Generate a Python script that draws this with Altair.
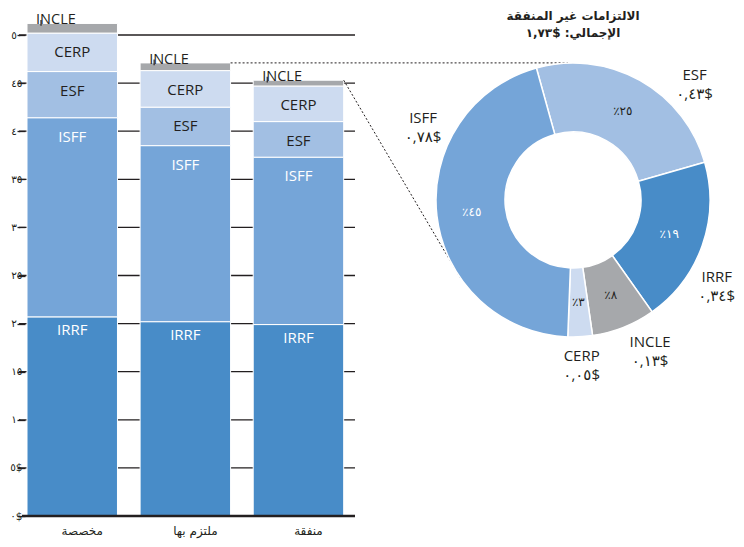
import math
import altair as alt
import pandas as pd

# ---------------- data ----------------
categories = ["IRRF", "ISFF", "ESF", "CERP", "INCLE"]          # stack order, bottom -> top
stages = ["مخصصة", "ملتزم بها", "منفقة"]
allocated = [20.7, 20.7, 4.8, 4.0, 1.0]
obligated = [20.2, 18.3, 4.0, 3.8, 0.8]
expended = [19.9, 17.4, 3.7, 3.7, 0.6]

donut_order = ["ESF", "IRRF", "INCLE", "CERP", "ISFF"]          # clockwise
unspent = [0.43, 0.34, 0.13, 0.05, 0.78]
unspent_labels = ["٠,٤٣$", "٠,٣٤$", "٠,١٣$", "٠,٠٥$", "٠,٧٨$"]
pct_labels = ["٪٢٥", "٪١٩", "٪٨", "٪٣", "٪٤٥"]

y_ticks = [0, 5, 10, 15, 20, 25, 30, 35, 40, 45, 50]
y_tick_labels = ["٠$", "٥$", "١٠", "١٥", "٢٠", "٢٥", "٣٠", "٣٥", "٤٠", "٤٥", "٥٠"]

title_line1 = "الالتزامات غير المنفقة"
title_line2 = "الإجمالي: $١,٧٣"

# ---------------- styles ----------------
colors = {"IRRF": "#488cc8", "ISFF": "#75a5d8", "ESF": "#a2bfe3",
          "CERP": "#cddbf0", "INCLE": "#a6a8ab"}
text_on = {"IRRF": "white", "ISFF": "white", "ESF": "#231f20",
           "CERP": "#231f20", "INCLE": "#231f20"}
DARK = "#231f20"
LATIN = "Open Sans, DejaVu Sans"
ARABIC = "DejaVu Sans"

W, H = 709, 481
BAR_W = 328
CX, CY, R_OUT, R_IN = 546, 165, 137, 68
START = math.radians(-15.5)

# outer label nudges (style)
outer_nudge = {"ESF": (41, 20), "IRRF": (-12, 23), "INCLE": (16, -10),
               "CERP": (0, -8), "ISFF": (14, -100)}

# ---------------- tables ----------------
rows = []
for stage, vals in zip(stages, [allocated, obligated, expended]):
    base = 0.0
    for cat, v in zip(categories, vals):
        rows.append({"stage": stage, "cat": cat, "y0": base, "y1": base + v,
                     "tcol": text_on[cat]})
        base += v
bars_df = pd.DataFrame(rows)

totals = {s: sum(v) for s, v in zip(stages, [allocated, obligated, expended])}
total_unspent = sum(unspent)
drows = []
acc = 0.0
for cat, v, vl, pl in zip(donut_order, unspent, unspent_labels, pct_labels):
    drows.append({"cat": cat, "t0": acc, "t1": acc + v, "tm": acc + v / 2,
                  "pct": pl, "lab": cat + "\n" + vl, "tcol": text_on[cat]})
    acc += v
donut_df = pd.DataFrame(drows)

ticks_df = pd.DataFrame({"v": y_ticks[1:]})
label_expr = "[" + ",".join("'%s'" % s for s in y_tick_labels) + "][round(datum.value/5)]"

yscale = alt.Scale(domain=[0, 50], nice=False, zero=True)
xscale = alt.Scale(domain=stages, range=[0, BAR_W], paddingInner=0.2,
                   paddingOuter=0.05, align=0)
colscale = alt.Scale(domain=categories, range=[colors[c] for c in categories])
thscale = alt.Scale(domain=[0, total_unspent], range=[START, START + 2 * math.pi])

yaxis = alt.Axis(values=y_ticks, labelExpr=label_expr, title=None, domain=False,
                 grid=False, tickSize=8, tickColor=DARK, tickWidth=1.3, offset=2,
                 labelFont=ARABIC, labelFontSize=10.5, labelColor=DARK,
                 labelPadding=-5)
xaxis = alt.Axis(title=None, domain=False, ticks=False, labelAngle=0,
                 labelFont=ARABIC, labelFontSize=12, labelColor=DARK,
                 labelPadding=9, labelOffset=10)

# ---------------- layers ----------------
grid = alt.Chart(ticks_df).mark_rule(color=DARK, strokeWidth=1.3).encode(
    y=alt.Y("v:Q", scale=yscale, axis=yaxis),
    x=alt.value(-8), x2=alt.value(BAR_W))

bars = alt.Chart(bars_df).mark_bar(stroke="white", strokeWidth=1).encode(
    x=alt.X("stage:N", sort=stages, scale=xscale, axis=xaxis),
    y=alt.Y("y1:Q", scale=yscale),
    y2="y0",
    color=alt.Color("cat:N", scale=colscale, legend=None))

baseline = alt.Chart(pd.DataFrame({"v": [0]})).mark_rule(
    color=DARK, strokeWidth=2.5).encode(
    y=alt.Y("v:Q", scale=yscale), x=alt.value(-5), x2=alt.value(BAR_W))


def seg_text(flt, dy):
    return alt.Chart(bars_df).transform_filter(flt).mark_text(
        font=LATIN, fontSize=15, baseline="middle", dy=dy).encode(
        x=alt.X("stage:N", sort=stages, scale=xscale),
        y=alt.Y("y1:Q", scale=yscale),
        text="cat:N",
        color=alt.Color("tcol:N", scale=None))


seg_upper = seg_text((alt.datum.cat != "INCLE") & (alt.datum.cat != "IRRF"), 19)
seg_irrf = seg_text(alt.datum.cat == "IRRF", 13)

incle_base = alt.Chart(bars_df).transform_filter(alt.datum.cat == "INCLE")
incle_text = incle_base.mark_text(font=LATIN, fontSize=14.5, align="left",
                                  baseline="alphabetic", dy=1, color=DARK).encode(
    x=alt.X("stage:N", sort=stages, scale=xscale, bandPosition=0.1),
    y=alt.Y("y1:Q", scale=yscale),
    text="cat:N")
incle_tick = incle_base.transform_calculate(
    a="datum.y1 - 0.25", b="datum.y1 + 0.35").mark_rule(
    color=DARK, strokeWidth=1.2).encode(
    x=alt.X("stage:N", sort=stages, scale=xscale, bandPosition=0.155),
    y=alt.Y("a:Q", scale=yscale), y2="b:Q")

# dotted connectors
tot_df = pd.DataFrame({"stage": stages, "tot": [totals[s] for s in stages]})
ang2 = math.radians(235.4)
px2 = CX + R_OUT * math.sin(ang2)
py2 = CY - R_OUT * math.cos(ang2)
conn1 = alt.Chart(tot_df).transform_filter(alt.datum.stage == stages[1]).mark_rule(
    color=DARK, strokeWidth=1, strokeDash=[2, 2]).encode(
    x=alt.X("stage:N", sort=stages, scale=xscale, bandPosition=1),
    x2=alt.value(CX - 5),
    y=alt.Y("tot:Q", scale=yscale))
conn2 = alt.Chart(tot_df).transform_filter(alt.datum.stage == stages[2]).mark_rule(
    color=DARK, strokeWidth=1, strokeDash=[2, 2]).encode(
    x=alt.X("stage:N", sort=stages, scale=xscale, bandPosition=1),
    x2=alt.value(px2),
    y=alt.Y("tot:Q", scale=yscale),
    y2=alt.value(py2))

arcs = alt.Chart(donut_df).mark_arc(radius=R_OUT, radius2=R_IN, stroke="white",
                                    strokeWidth=1.5).encode(
    theta=alt.Theta("t0:Q", scale=thscale), theta2="t1:Q",
    color=alt.Color("cat:N", scale=colscale, legend=None),
    x=alt.value(CX), y=alt.value(CY))

pct = alt.Chart(donut_df).mark_text(radius=102, font=ARABIC, fontSize=12,
                                    baseline="middle").encode(
    theta=alt.Theta("tm:Q", scale=thscale),
    text="pct:N",
    color=alt.Color("tcol:N", scale=None),
    x=alt.value(CX), y=alt.value(CY))

outer_layers = []
for cat in donut_order:
    dx, dy = outer_nudge[cat]
    outer_layers.append(
        alt.Chart(donut_df).transform_filter(alt.datum.cat == cat).mark_text(
            radius=165, font=LATIN, fontSize=15, lineHeight=19, baseline="middle",
            align="center", lineBreak="\n", dx=dx, dy=dy - 1, color=DARK).encode(
            theta=alt.Theta("tm:Q", scale=thscale),
            text="lab:N",
            x=alt.value(CX), y=alt.value(CY)))

t1 = alt.Chart(pd.DataFrame({"t": [title_line1]})).mark_text(
    font=ARABIC, fontSize=12, fontWeight="bold", color=DARK, baseline="middle").encode(
    x=alt.value(CX), y=alt.value(-19), text="t:N")
t2 = alt.Chart(pd.DataFrame({"t": [title_line2]})).mark_text(
    font=ARABIC, fontSize=12, fontWeight="bold", color=DARK, baseline="middle",
    dir="rtl").encode(
    x=alt.value(CX), y=alt.value(-2), text="t:N")

chart = alt.layer(grid, bars, baseline, seg_upper, seg_irrf, incle_text, incle_tick,
                  conn1, conn2, arcs, pct, *outer_layers, t1, t2).properties(
    width=W, height=H,
    padding={"left": 19, "top": 27, "right": 0, "bottom": 23},
    autosize=alt.AutoSizeParams(type="none"),
).configure_view(stroke=None)

chart.save("out.html", embed_options={"renderer": "svg", "actions": False})
